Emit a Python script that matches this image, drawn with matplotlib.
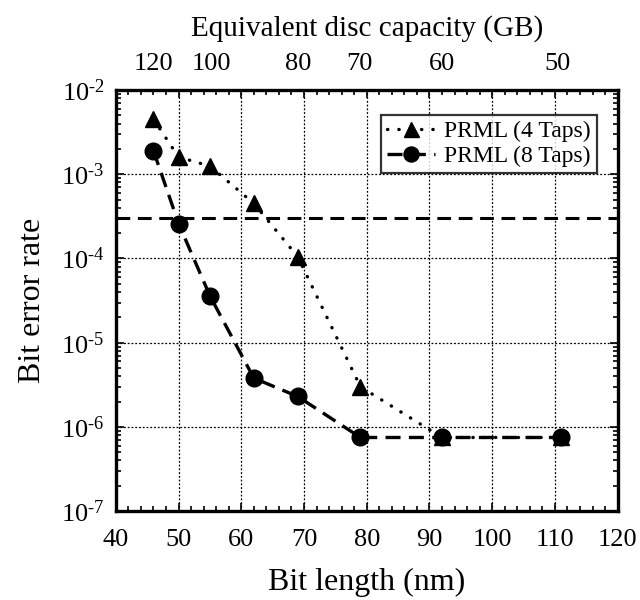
import numpy as np
import matplotlib
matplotlib.use('Agg')
import matplotlib.pyplot as plt
from matplotlib.ticker import LogLocator, MultipleLocator, NullFormatter, FuncFormatter

plt.rcParams['font.family'] = ['Liberation Serif', 'DejaVu Serif']
plt.rcParams['mathtext.fontset'] = 'custom'
plt.rcParams['mathtext.rm'] = 'Liberation Serif'
plt.rcParams['mathtext.it'] = 'Liberation Serif:italic'

# data
bit_length = [46, 50, 55, 62, 69, 79, 92, 111]
ber_4taps = [4.5e-3, 1.6e-3, 1.25e-3, 4.5e-4, 1.05e-4, 3.0e-6, 7.5e-7, 7.5e-7]
ber_8taps = [1.9e-3, 2.6e-4, 3.6e-5, 3.8e-6, 2.3e-6, 7.5e-7, 7.5e-7, 7.5e-7]
threshold = 3e-4
capacity_ticks = [120, 100, 80, 70, 60, 50]
capacity_const = 5520.0  # capacity (GB) * bit length (nm)

fig = plt.figure(figsize=(6.4, 6.0), dpi=100)
ax = fig.add_axes([0.181, 0.148, 0.784, 0.702])

ax.plot(bit_length, ber_4taps, color='k', linestyle=(0, (0.1, 3.3)), lw=2.4,
        dash_capstyle='round', marker='^', markersize=12, label='PRML (4 Taps)')
ax.plot(bit_length, ber_8taps, color='k', linestyle=(0, (4.5, 2.5)), lw=2.4,
        marker='o', markersize=12, label='PRML (8 Taps)')
ax.axhline(threshold, color='k', linestyle=(0, (4.5, 2.5)), lw=2.2)

ax.set_yscale('log')
ax.set_xlim(40, 120)
ax.set_ylim(1e-7, 1e-2)
ax.xaxis.set_major_locator(MultipleLocator(10))
ax.xaxis.set_minor_locator(MultipleLocator(2))
ax.yaxis.set_major_locator(LogLocator(base=10, numticks=10))
ax.yaxis.set_minor_locator(LogLocator(base=10, subs=np.arange(2, 10), numticks=10))
ax.yaxis.set_minor_formatter(NullFormatter())
ax.yaxis.set_major_formatter(FuncFormatter(
    lambda v, p: r'$\mathrm{10}^{\text{-%d}}$' % round(-np.log10(v))))

ax.grid(True, which='major', color='k', linestyle=(0, (1.5, 1.5)), lw=0.9)
ax.tick_params(which='both', direction='in', right=True, top=False,
               labelsize=19, width=1.2)
ax.tick_params(which='major', length=6)
ax.tick_params(which='minor', length=3.5)
ax.tick_params(axis='x', pad=13)
ax.tick_params(axis='y', pad=8)
for sp in ax.spines.values():
    sp.set_linewidth(2.4)

ax.set_xlabel('Bit length (nm)', fontsize=23, labelpad=12)
ax.set_ylabel('Bit error rate', fontsize=23, labelpad=10)

sec = ax.secondary_xaxis('top', functions=(lambda x: capacity_const / np.clip(x, 1e-9, None),
                                           lambda c: capacity_const / np.clip(c, 1e-9, None)))
sec.set_xticks(capacity_ticks)
sec.set_xticklabels([str(c) for c in capacity_ticks])
sec.tick_params(direction='in', length=0, labelsize=19, pad=11)
sec.set_xlabel('Equivalent disc capacity (GB)', fontsize=21, labelpad=12)

# minor ticks along top spine
top_ticks = ax.secondary_xaxis('top')
top_ticks.xaxis.set_major_locator(MultipleLocator(10))
top_ticks.xaxis.set_minor_locator(MultipleLocator(2))
top_ticks.tick_params(which='both', direction='in', labeltop=False, width=1.2)
top_ticks.tick_params(which='major', length=6)
top_ticks.tick_params(which='minor', length=3.5)
top_ticks.spines['top'].set_visible(False)

leg = ax.legend(loc='upper right', fontsize=17, frameon=True, fancybox=False,
                edgecolor='k', borderpad=0.25, handlelength=2.0, handletextpad=0.4,
                labelspacing=0.15, bbox_to_anchor=(0.958, 0.941), markerscale=0.9,
                borderaxespad=0)
leg.get_frame().set_linewidth(1.6)

fig.savefig('out.png', dpi=100)
